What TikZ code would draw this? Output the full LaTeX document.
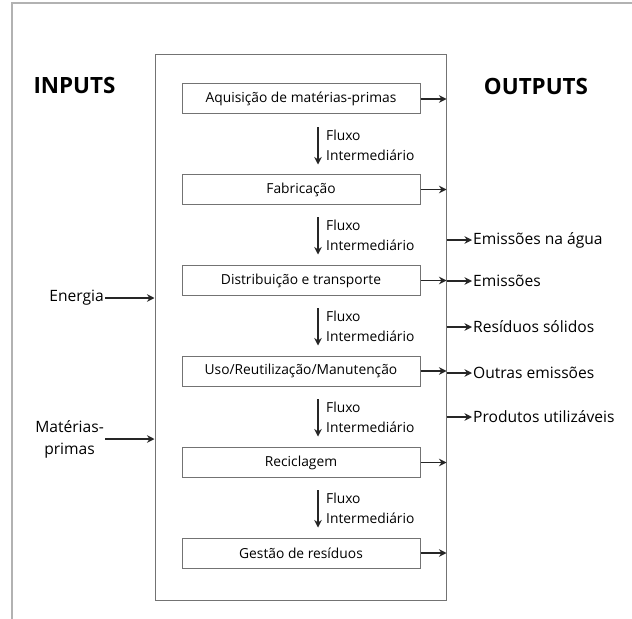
\documentclass[tikz,border=0pt]{standalone}
\usepackage{fontspec}
\setmainfont{Open Sans}
\usetikzlibrary{arrows.meta,positioning}

\tikzset{
  stage/.style = {draw=black!55, line width=1bp, minimum width=238bp, minimum height=30bp,
    inner sep=0pt, font=\fontsize{13.8bp}{16bp}\selectfont},
  flux/.style = {anchor=west, align=left, inner sep=0pt, font=\fontsize{13.8bp}{20bp}\selectfont},
  side/.style = {inner sep=1bp, font=\fontsize{15.6bp}{22bp}\selectfont},
  heading/.style = {inner sep=0pt, font=\fontsize{22.4bp}{26bp}\selectfont\bfseries},
  arr/.style = {line width=1.9bp, black!85, -{Stealth[length=7.5bp,width=7.5bp]}}
}

\begin{document}
\begin{tikzpicture}[x=1bp, y=-1bp]
  \useasboundingbox (0,0) rectangle (632,619);
  % frame
  \draw[black!30, line width=2bp] (12,619) -- (12,3) -- (632,3);

  % system boundary
  \node[draw=black!55, line width=1bp, minimum width=291bp, minimum height=545bp] (sys) at (300.5,327.5) {};

  \node[heading] (inputs) at (74.5,86) {INPUTS};
  \node[heading] (outputs) at (536,86) {OUTPUTS};

  % stages
  \node[stage] (aquis) at (301,99) {Aquisição de matérias-primas};
  \node[stage] (fabric) at (301,189.5) {Fabricação};
  \node[stage] (distr) at (301,280.5) {Distribuição e transporte};
  \node[stage] (uso) at (301,371) {Uso/Reutilização/Manutenção};
  \node[stage] (recic) at (301,462.5) {Reciclagem};
  \node[stage] (gestao) at (301,553) {Gestão de resíduos};

  % intermediate flows
  \node[flux] (f1) at (326,145) {Fluxo\\Intermediário};
  \node[flux] (f2) at (326,235) {Fluxo\\Intermediário};
  \node[flux] (f3) at (326,326) {Fluxo\\Intermediário};
  \node[flux] (f4) at (326,417) {Fluxo\\Intermediário};
  \node[flux] (f5) at (326,508) {Fluxo\\Intermediário};
  \draw[arr] ([shift={(-8,-2)}]f1.north west) -- ([shift={(-8,4)}]f1.south west);
  \draw[arr] ([shift={(-8,-2)}]f2.north west) -- ([shift={(-8,4)}]f2.south west);
  \draw[arr] ([shift={(-8,-2)}]f3.north west) -- ([shift={(-8,4)}]f3.south west);
  \draw[arr] ([shift={(-8,-2)}]f4.north west) -- ([shift={(-8,4)}]f4.south west);
  \draw[arr] ([shift={(-8,-2)}]f5.north west) -- ([shift={(-8,4)}]f5.south west);

  % stage outputs
  \draw[arr] (aquis.east) -- (aquis.east -| sys.east);
  \draw[arr] (fabric.east) -- (fabric.east -| sys.east);
  \draw[arr] (distr.east) -- (distr.east -| sys.east);
  \draw[arr] (uso.east) -- (uso.east -| sys.east);
  \draw[arr] (recic.east) -- (recic.east -| sys.east);
  \draw[arr] (gestao.east) -- (gestao.east -| sys.east);

  % inputs
  \node[side, anchor=east] (energia) at (105,298) {Energia};
  \node[side, anchor=east, align=center] (mat) at (105,439) {Matérias-\\primas};
  \draw[arr] (energia.east) -- (energia.east -| sys.west);
  \draw[arr] (mat.east) -- (mat.east -| sys.west);

  % outputs
  \node[side, anchor=west] (agua) at (472,240) {Emissões na água};
  \node[side, anchor=west] (emis) at (472,281) {Emissões};
  \node[side, anchor=west] (solid) at (472,327) {Resíduos sólidos};
  \node[side, anchor=west] (outras) at (472,373) {Outras emissões};
  \node[side, anchor=west] (prod) at (472,417) {Produtos utilizáveis};
  \draw[arr] (agua.west -| sys.east) -- (agua.west);
  \draw[arr] (emis.west -| sys.east) -- (emis.west);
  \draw[arr] (solid.west -| sys.east) -- (solid.west);
  \draw[arr] (outras.west -| sys.east) -- (outras.west);
  \draw[arr] (prod.west -| sys.east) -- (prod.west);
\end{tikzpicture}
\end{document}
